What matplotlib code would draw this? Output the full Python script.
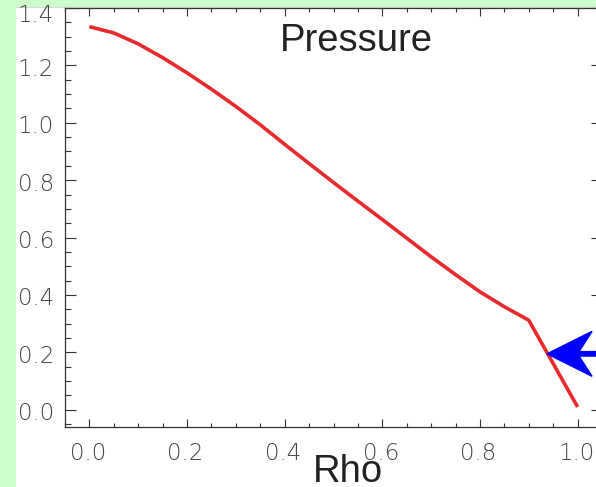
import matplotlib
matplotlib.use("Agg")
import matplotlib.pyplot as plt
from matplotlib.patches import Rectangle, FancyArrow
from matplotlib.transforms import Affine2D, ScaledTranslation
from matplotlib.ticker import MultipleLocator

# ---- data ----
rho = [0.0, 0.05, 0.10, 0.15, 0.20, 0.25, 0.30, 0.35, 0.40, 0.45, 0.50,
       0.55, 0.60, 0.65, 0.70, 0.75, 0.80, 0.85, 0.90, 1.00]
pressure = [1.335, 1.313, 1.275, 1.227, 1.174, 1.117, 1.057, 0.993, 0.925,
            0.858, 0.792, 0.727, 0.663, 0.598, 0.533, 0.471, 0.411, 0.359,
            0.312, 0.010]
x_ticks = [0.0, 0.2, 0.4, 0.6, 0.8, 1.0]
y_ticks = [0.0, 0.2, 0.4, 0.6, 0.8, 1.0, 1.2, 1.4]
arrow_tip = (0.9375, 0.195)
title_text = "Pressure"
xlabel_text = "Rho"

W, H = 596, 487
DPI = 100
fig = plt.figure(figsize=(W / DPI, H / DPI), dpi=DPI, facecolor="#ccffcc")
# white panel
fig.patches.append(Rectangle((16 / W, 0), 1 - 16 / W, (H - 6.5) / H,
                             transform=fig.transFigure, facecolor="white",
                             edgecolor="none", zorder=-5))
fig.lines.append(plt.Line2D([16 / W, 1], [(H - 6.5) / H] * 2,
                            transform=fig.transFigure, color="#d8d8d8", lw=0.8,
                            zorder=-4))

ax = fig.add_axes([65 / W, (H - 427) / H, (602 - 65) / W, (427 - 8) / H])
ax.set_facecolor("none")
ax.plot(rho, pressure, color="#e82a2c", lw=2.6, solid_capstyle="butt",
        solid_joinstyle="round")
ax.set_xlim(-0.05, 1.05)
ax.set_ylim(-0.06, 1.40)
ax.set_xticks(x_ticks)
ax.set_yticks(y_ticks)
ax.set_xticklabels([])
ax.set_yticklabels([])
ax.xaxis.set_minor_locator(MultipleLocator(0.05))
ax.yaxis.set_minor_locator(MultipleLocator(0.05))

tick_col = "#333333"
for s in ax.spines.values():
    s.set_color(tick_col)
    s.set_linewidth(0.9)
ax.tick_params(axis="x", which="major", direction="in", length=5.8, width=0.8,
               color=tick_col, top=True)
ax.tick_params(axis="x", which="minor", direction="in", length=2.6, width=0.8,
               color=tick_col, top=True)
ax.tick_params(axis="y", which="major", direction="in", length=8, width=0.8,
               color=tick_col, right=True)
ax.tick_params(axis="y", which="minor", direction="in", length=4.3, width=0.8,
               color=tick_col, right=True)

lab_font = dict(family="DejaVu Sans", weight=200, size=16.5, color="#444444")
for v in x_ticks:
    ax.annotate(f"{v:.1f}", xy=(v, 0), xycoords=ax.get_xaxis_transform(),
                xytext=(-1.5, -15.5), textcoords="offset pixels",
                ha="center", va="top", annotation_clip=False, **lab_font)
for v in y_ticks:
    dy = -7 if v == y_ticks[-1] else -4
    ax.annotate(f"{v:.1f}", xy=(0, v), xycoords=ax.get_yaxis_transform(),
                xytext=(-11, dy), textcoords="offset pixels",
                ha="right", va="center", annotation_clip=False, **lab_font)

# arrow (pixel-sized shape anchored at a data point)
tr = Affine2D() + ScaledTranslation(arrow_tip[0], arrow_tip[1], ax.transData)
arr = FancyArrow(70, 0, -70, 0, width=4.5, head_width=45, head_length=45,
                 overhang=0.29, length_includes_head=True, color="#0000ff",
                 transform=tr, clip_on=True, zorder=5)
ax.add_patch(arr)

fig.text(356 / W, (H - 50.7) / H, title_text, ha="center", va="baseline",
         fontsize=27.5, family="Liberation Sans", color="#222222")
fig.text(347.5 / W, (H - 482) / H, xlabel_text, ha="center", va="baseline",
         fontsize=27.5, family="Liberation Sans", color="#222222")

fig.savefig("out.png", dpi=DPI, facecolor=fig.get_facecolor())
